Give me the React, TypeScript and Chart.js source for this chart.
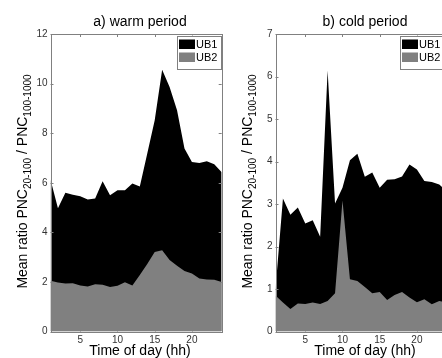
import React, { useEffect, useRef } from "react";
import { Chart, registerables } from "chart.js";

Chart.register(...registerables);

// ---- data ----
const hours = [1, 2, 3, 4, 5, 6, 7, 8, 9, 10, 11, 12, 13, 14, 15, 16, 17, 18, 19, 20, 21, 22, 23, 24];

const warmUB1 = [6.13, 4.97, 5.6, 5.52, 5.46, 5.32, 5.36, 6.06, 5.5, 5.7, 5.7, 5.97, 5.85, 7.18, 8.52, 10.56, 9.86, 8.92, 7.38, 6.84, 6.8, 6.87, 6.75, 6.42];
const warmUB2 = [2.05, 1.98, 1.94, 1.95, 1.86, 1.82, 1.91, 1.89, 1.79, 1.85, 1.99, 1.86, 2.28, 2.72, 3.21, 3.28, 2.88, 2.65, 2.44, 2.34, 2.14, 2.1, 2.09, 2.0];

const coldUB1 = [1.0, 3.13, 2.75, 2.92, 2.54, 2.62, 2.23, 6.14, 3.01, 3.38, 4.03, 4.18, 3.64, 3.74, 3.38, 3.57, 3.58, 3.65, 3.93, 3.81, 3.54, 3.52, 3.46, 3.3];
const coldUB2 = [0.85, 0.68, 0.53, 0.66, 0.65, 0.68, 0.65, 0.72, 0.9, 3.08, 1.23, 1.19, 1.05, 0.9, 0.93, 0.74, 0.86, 0.93, 0.8, 0.69, 0.76, 0.64, 0.72, 0.68];

const xTickValues = [5, 10, 15, 20];
const warmYMax = 12;
const warmYStep = 2;
const coldYMax = 7;
const coldYStep = 1;

const warmTitle = "a) warm period";
const coldTitle = "b) cold period";
const xLabel = "Time of day (hh)";
const legendLabels = ["UB1", "UB2"];
const yLabelParts = [
  { t: "Mean ratio PNC", sub: false },
  { t: "20-100", sub: true },
  { t: " / PNC", sub: false },
  { t: "100-1000", sub: true },
];

const FONT = "'Liberation Sans', Arial, Helvetica, sans-serif";
const BLACK = "#000000";
const GRAY = "#808080";
const FRAME = "#808080";

const CW = 230;
const CH = 358;

type PanelProps = {
  title: string;
  ub1: number[];
  ub2: number[];
  yMax: number;
  yStep: number;
  legendX: number;
  left: number;
};

function Panel({ title, ub1, ub2, yMax, yStep, legendX, left }: PanelProps) {
  const ref = useRef<HTMLCanvasElement | null>(null);

  useEffect(() => {
    if (!ref.current) return;

    const decor = {
      id: "decor",
      afterDraw(chart: any) {
        const ctx = chart.ctx as CanvasRenderingContext2D;
        const a = chart.chartArea;
        const xs = chart.scales.x;
        const ys = chart.scales.y;
        ctx.save();
        // frame
        ctx.strokeStyle = FRAME;
        ctx.lineWidth = 1;
        ctx.strokeRect(Math.round(a.left) + 0.5, Math.round(a.top) + 0.5, Math.round(a.right - a.left), Math.round(a.bottom - a.top));
        // inward ticks
        const tl = 3;
        ctx.beginPath();
        xs.ticks.forEach((t: any) => {
          const px = Math.round(xs.getPixelForValue(t.value)) + 0.5;
          ctx.moveTo(px, a.bottom);
          ctx.lineTo(px, a.bottom - tl);
          ctx.moveTo(px, a.top);
          ctx.lineTo(px, a.top + tl);
        });
        ys.ticks.forEach((t: any) => {
          const py = Math.round(ys.getPixelForValue(t.value)) + 0.5;
          ctx.moveTo(a.left, py);
          ctx.lineTo(a.left + tl, py);
          ctx.moveTo(a.right, py);
          ctx.lineTo(a.right - tl, py);
        });
        ctx.stroke();

        // title
        ctx.fillStyle = "#000";
        ctx.font = `14px ${FONT}`;
        ctx.textAlign = "center";
        ctx.textBaseline = "alphabetic";
        ctx.fillText(title, 140, 25.5);
        // x label
        ctx.fillText(xLabel, 140, 355);

        // y label with subscripts
        ctx.save();
        ctx.translate(27, 181.5);
        ctx.rotate(-Math.PI / 2);
        ctx.textAlign = "left";
        let total = 0;
        const widths = yLabelParts.map((p) => {
          ctx.font = p.sub ? `10px ${FONT}` : `14px ${FONT}`;
          const w = ctx.measureText(p.t).width;
          total += w;
          return w;
        });
        let cx = -total / 2;
        yLabelParts.forEach((p, i) => {
          ctx.font = p.sub ? `10px ${FONT}` : `14px ${FONT}`;
          ctx.fillText(p.t, cx, p.sub ? 4 : 0);
          cx += widths[i];
        });
        ctx.restore();

        // legend
        const bx = legendX;
        const by = 35.5;
        ctx.fillStyle = "#fff";
        ctx.fillRect(bx, by, 44, 33.5);
        ctx.strokeStyle = FRAME;
        ctx.strokeRect(Math.round(bx) + 0.5, Math.round(by) + 0.5, 44, 33);
        const colors = [BLACK, GRAY];
        legendLabels.forEach((lab, i) => {
          const sy = by + 4 + i * 13;
          ctx.fillStyle = colors[i];
          ctx.fillRect(bx + 2.5, sy, 16, 9.5);
          ctx.fillStyle = "#000";
          ctx.font = `11px ${FONT}`;
          ctx.textAlign = "left";
          ctx.fillText(lab, bx + 19.5, sy + 8.8);
        });
        ctx.restore();
      },
    };

    const chart = new Chart(ref.current, {
      type: "line",
      data: {
        labels: hours,
        datasets: [
          {
            label: legendLabels[1],
            data: hours.map((h, i) => ({ x: h, y: ub2[i] })),
            backgroundColor: GRAY,
            borderColor: GRAY,
            borderWidth: 0,
            pointRadius: 0,
            fill: "origin",
            tension: 0,
            order: 0,
          },
          {
            label: legendLabels[0],
            data: hours.map((h, i) => ({ x: h, y: ub1[i] })),
            backgroundColor: BLACK,
            borderColor: BLACK,
            borderWidth: 0,
            pointRadius: 0,
            fill: "origin",
            tension: 0,
            order: 1,
          },
        ],
      },
      options: {
        animation: false,
        responsive: false,
        devicePixelRatio: 1,
        layout: { padding: { top: 34, right: CW - 221.7, left: 0, bottom: 0 } },
        plugins: {
          legend: { display: false },
          tooltip: { enabled: false },
          title: { display: false },
        },
        scales: {
          x: {
            type: "linear",
            min: 1,
            max: 24,
            afterBuildTicks: (scale: any) => {
              scale.ticks = xTickValues.map((v) => ({ value: v }));
            },
            afterFit: (scale: any) => {
              scale.height = CH - 331.5;
            },
            grid: { display: false, drawTicks: false },
            border: { display: false },
            ticks: {
              color: "#333",
              font: { family: FONT, size: 10 },
              padding: 3,
              maxRotation: 0,
              autoSkip: false,
            },
          },
          y: {
            type: "linear",
            min: 0,
            max: yMax,
            afterFit: (scale: any) => {
              scale.width = 50.5;
            },
            grid: { display: false, drawTicks: false },
            border: { display: false },
            ticks: {
              stepSize: yStep,
              color: "#333",
              font: { family: FONT, size: 10 },
              padding: 3,
            },
          },
        },
      },
      plugins: [decor],
    } as any);

    return () => chart.destroy();
  }, [title, ub1, ub2, yMax, yStep, legendX]);

  return (
    <canvas
      ref={ref}
      width={CW}
      height={CH}
      style={{ position: "absolute", left, top: 0, width: CW, height: CH }}
    />
  );
}

export default function App() {
  return (
    <div
      style={{
        position: "fixed",
        left: 0,
        top: 0,
        width: 442,
        height: 358,
        overflow: "hidden",
        background: "#fff",
      }}
    >
      <Panel title={warmTitle} ub1={warmUB1} ub2={warmUB2} yMax={warmYMax} yStep={warmYStep} legendX={176.5} left={0} />
      <Panel title={coldTitle} ub1={coldUB1} ub2={coldUB2} yMax={coldYMax} yStep={coldYStep} legendX={174.5} left={224.8} />
    </div>
  );
}
